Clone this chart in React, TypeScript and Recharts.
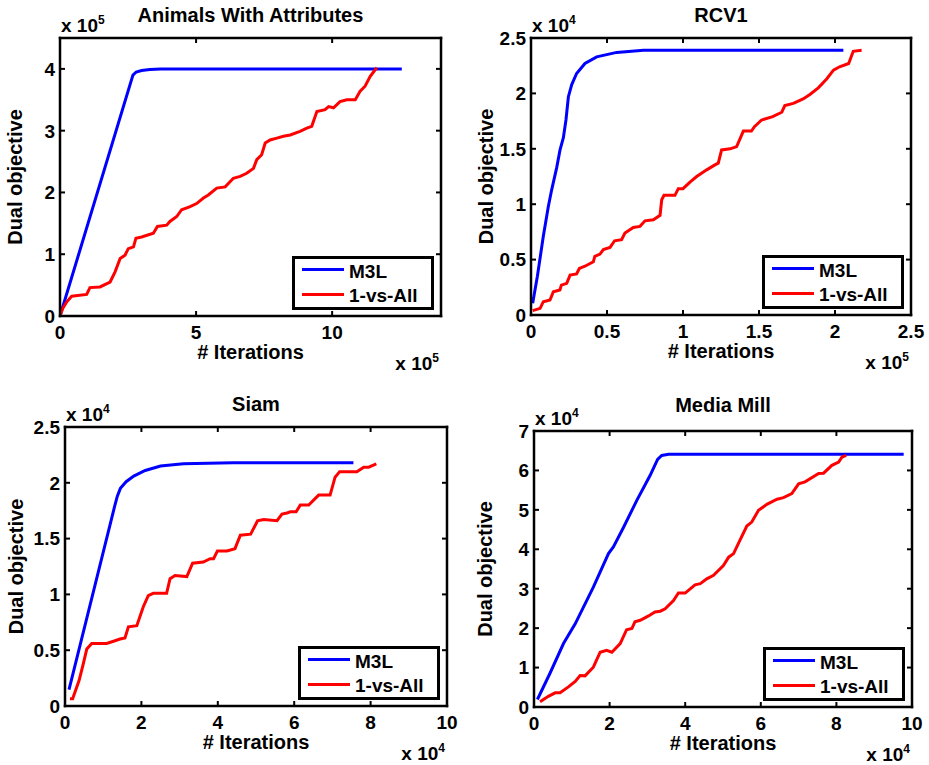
import { Legend, Line, LineChart, XAxis, YAxis } from "recharts";

const FONT = '"Liberation Sans", Arial, Helvetica, sans-serif';

// Animals With Attributes: x in 1e5 iterations, y in 1e5
const awaXTicks = [0, 5, 10];
const awaYTicks = [0, 1, 2, 3, 4];
const awaM3L = [
  [0, 0], [2.68, 3.9], [2.8, 3.95], [3.0, 3.975], [3.3, 3.99], [3.7, 4.0], [12.56, 4.0],
];
const awaOneVsAll = [
  [0, 0], [0.1, 0.12], [0.25, 0.23], [0.43, 0.32], [0.98, 0.35], [1.1, 0.46],
  [1.47, 0.47], [1.84, 0.55], [2.02, 0.71], [2.21, 0.93], [2.39, 0.985],
  [2.51, 1.09], [2.7, 1.12], [2.79, 1.26], [3.0, 1.28], [3.43, 1.34],
  [3.58, 1.45], [3.92, 1.47], [4.04, 1.53], [4.29, 1.61], [4.47, 1.72],
  [4.78, 1.77], [5.02, 1.82], [5.27, 1.91], [5.45, 1.96], [5.76, 2.07],
  [6.07, 2.09], [6.37, 2.23], [6.62, 2.26], [6.86, 2.31], [7.11, 2.39],
  [7.23, 2.53], [7.41, 2.61], [7.54, 2.8], [7.72, 2.85], [7.97, 2.88],
  [8.21, 2.91], [8.46, 2.93], [8.82, 2.99], [9.07, 3.04], [9.25, 3.07],
  [9.44, 3.31], [9.74, 3.34], [9.87, 3.39], [10.05, 3.37], [10.29, 3.47],
  [10.54, 3.5], [10.85, 3.5], [11.03, 3.64], [11.21, 3.72], [11.4, 3.88],
  [11.52, 3.95], [11.64, 4.02],
];

// RCV1: x in 1e5, y in 1e4
const rcvXTicks = [0, 0.5, 1, 1.5, 2, 2.5];
const rcvYTicks = [0, 0.5, 1, 1.5, 2, 2.5];
const rcvM3L = [
  [0.011, 0.105], [0.042, 0.35], [0.081, 0.71], [0.114, 0.98], [0.136, 1.13],
  [0.169, 1.33], [0.191, 1.49], [0.213, 1.6], [0.23, 1.76], [0.246, 1.97],
  [0.268, 2.08], [0.3, 2.18], [0.355, 2.27], [0.432, 2.33], [0.564, 2.37],
  [0.74, 2.39], [1.07, 2.39], [2.055, 2.39],
];
const rcvOneVsAll = [
  [0.011, 0.04], [0.06, 0.06], [0.081, 0.12], [0.125, 0.135], [0.147, 0.21],
  [0.19, 0.226], [0.2, 0.27], [0.235, 0.286], [0.257, 0.36], [0.3, 0.37],
  [0.318, 0.42], [0.355, 0.44], [0.41, 0.48], [0.42, 0.53], [0.454, 0.55],
  [0.476, 0.59], [0.52, 0.61], [0.55, 0.67], [0.596, 0.68], [0.618, 0.74],
  [0.673, 0.79], [0.717, 0.8], [0.75, 0.85], [0.805, 0.86], [0.849, 0.9],
  [0.86, 1.04], [0.875, 1.08], [0.947, 1.08], [0.969, 1.14], [1.0, 1.14],
  [1.046, 1.2], [1.09, 1.25], [1.156, 1.31], [1.21, 1.355], [1.232, 1.37],
  [1.254, 1.49], [1.31, 1.5], [1.353, 1.52], [1.397, 1.66], [1.45, 1.66],
  [1.47, 1.7], [1.517, 1.76], [1.59, 1.79], [1.65, 1.83], [1.67, 1.89],
  [1.726, 1.91], [1.79, 1.95], [1.835, 1.99], [1.89, 2.05], [1.945, 2.13],
  [1.99, 2.21], [2.03, 2.24], [2.09, 2.27], [2.12, 2.38], [2.175, 2.39],
];

// Siam: x in 1e4, y in 1e4
const siamXTicks = [0, 2, 4, 6, 8, 10];
const siamYTicks = [0, 0.5, 1, 1.5, 2, 2.5];
const siamM3L = [
  [0.105, 0.146], [1.3, 1.79], [1.37, 1.88], [1.45, 1.95], [1.6, 2.01],
  [1.8, 2.06], [2.1, 2.11], [2.5, 2.15], [3.1, 2.17], [4.4, 2.18], [7.55, 2.18],
];
const siamOneVsAll = [
  [0.13, 0.066], [0.2, 0.066], [0.37, 0.23], [0.48, 0.38], [0.57, 0.51],
  [0.7, 0.56], [1.09, 0.56], [1.27, 0.58], [1.44, 0.6], [1.57, 0.61],
  [1.66, 0.71], [1.88, 0.72], [2.05, 0.89], [2.18, 0.99], [2.31, 1.01],
  [2.66, 1.01], [2.75, 1.14], [2.88, 1.17], [3.19, 1.16], [3.34, 1.28],
  [3.62, 1.29], [3.8, 1.32], [3.89, 1.32], [3.99, 1.39], [4.24, 1.39],
  [4.45, 1.41], [4.59, 1.53], [4.86, 1.54], [5.04, 1.66], [5.2, 1.67],
  [5.55, 1.66], [5.68, 1.72], [5.81, 1.73], [5.9, 1.74], [6.05, 1.74],
  [6.16, 1.8], [6.38, 1.8], [6.64, 1.89], [6.94, 1.89], [7.07, 2.05],
  [7.19, 2.1], [7.64, 2.1], [7.82, 2.14], [7.95, 2.14], [8.15, 2.17],
];

// Media Mill: x in 1e4, y in 1e4
const mmXTicks = [0, 2, 4, 6, 8, 10];
const mmYTicks = [0, 1, 2, 3, 4, 5, 6, 7];
const mmM3L = [
  [0.09, 0.19], [0.42, 0.85], [0.78, 1.61], [1.09, 2.11], [1.57, 3.04],
  [1.97, 3.89], [2.1, 4.06], [2.37, 4.56], [2.72, 5.24], [3.07, 5.87],
  [3.27, 6.28], [3.38, 6.38], [3.56, 6.41], [9.78, 6.41],
];
const mmOneVsAll = [
  [0.16, 0.13], [0.38, 0.27], [0.56, 0.36], [0.69, 0.36], [0.91, 0.51],
  [1.09, 0.65], [1.22, 0.8], [1.35, 0.79], [1.57, 1.01], [1.75, 1.39],
  [1.92, 1.44], [2.06, 1.39], [2.28, 1.61], [2.45, 1.96], [2.59, 1.99],
  [2.67, 2.16], [2.81, 2.2], [3.03, 2.31], [3.2, 2.41], [3.34, 2.43],
  [3.47, 2.49], [3.69, 2.7], [3.82, 2.89], [4.0, 2.89], [4.26, 3.1],
  [4.4, 3.13], [4.57, 3.25], [4.75, 3.34], [5.01, 3.59], [5.15, 3.8],
  [5.28, 3.89], [5.45, 4.23], [5.63, 4.59], [5.76, 4.69], [5.94, 4.99],
  [6.16, 5.14], [6.43, 5.27], [6.6, 5.31], [6.82, 5.41], [7.0, 5.66],
  [7.17, 5.71], [7.53, 5.92], [7.66, 5.93], [7.88, 6.13], [8.06, 6.21],
  [8.15, 6.34], [8.26, 6.38],
];

const seriesNames = ["M3L", "1-vs-All"];

const toPts = (a: number[][]) => a.map(([x, y]) => ({ x, y }));

const panels = [
  {
    title: "Animals With Attributes", xExp: "5", yExp: "5",
    box: { l: 60, r: 441, t: 38, b: 316 }, titleDy: 16, yLabelX: 15,
    xDomain: [0, 14], yDomain: [0, 4.5], xTicks: awaXTicks, yTicks: awaYTicks,
    m3l: awaM3L, ova: awaOneVsAll,
  },
  {
    title: "RCV1", xExp: "5", yExp: "4",
    box: { l: 531, r: 911, t: 38, b: 315 }, titleDy: 16, yLabelX: 15,
    xDomain: [0, 2.5], yDomain: [0, 2.5], xTicks: rcvXTicks, yTicks: rcvYTicks,
    m3l: rcvM3L, ova: rcvOneVsAll,
  },
  {
    title: "Siam", xExp: "4", yExp: "4",
    box: { l: 65, r: 447, t: 427, b: 706 }, titleDy: 16, yLabelX: 11,
    xDomain: [0, 10], yDomain: [0, 2.5], xTicks: siamXTicks, yTicks: siamYTicks,
    m3l: siamM3L, ova: siamOneVsAll,
  },
  {
    title: "Media Mill", xExp: "4", yExp: "4",
    box: { l: 534, r: 912, t: 431, b: 707 }, titleDy: 19, yLabelX: 11,
    xDomain: [0, 10], yDomain: [0, 7], xTicks: mmXTicks, yTicks: mmYTicks,
    m3l: mmM3L, ova: mmOneVsAll,
  },
];

const ML = 60, MT = 40, MR = 30, MB = 70;
const TICK = 5;
const tickText = { fill: "#000", fontSize: 19, fontWeight: "bold", fontFamily: FONT };
const labelText = { ...tickText, fontSize: 20 };
const frame = { stroke: "#000", strokeWidth: 2.5, strokeLinecap: "square" as const };
const tickLn = { stroke: "#000", strokeWidth: 2 };

// MATLAB-style inward ticks: axes use tickSize 0, so x/y is the axis line itself
const BottomTick = ({ x, y, payload }: any) => (
  <g>
    <line x1={x} x2={x} y1={y} y2={y - TICK} {...tickLn} />
    <text x={x} y={y + 23} textAnchor="middle" {...tickText}>{payload.value}</text>
  </g>
);
const LeftTick = ({ x, y, payload }: any) => (
  <g>
    <line x1={x} x2={x + TICK} y1={y} y2={y} {...tickLn} />
    <text x={x - 5} y={y} dy="0.36em" textAnchor="end" {...tickText}>{payload.value}</text>
  </g>
);
const TopTick = ({ x, y }: any) => <line x1={x} x2={x} y1={y} y2={y + TICK} {...tickLn} />;
const RightTick = ({ x, y }: any) => <line x1={x} x2={x - TICK} y1={y} y2={y} {...tickLn} />;

function LegendBox({ payload }: any) {
  const items = [...(payload || [])].sort(
    (a: any, b: any) => seriesNames.indexOf(a.value) - seriesNames.indexOf(b.value)
  );
  return (
    <div style={{ width: 142, height: 54, boxSizing: "border-box", border: "3px solid #000", background: "#fff" }}>
      <svg width={136} height={48} style={{ display: "block" }}>
        {items.map((p: any, i: number) => (
          <g key={p.value}>
            <line x1={7} x2={49} y1={10.5 + i * 25} y2={10.5 + i * 25} stroke={p.color} strokeWidth={3} />
            <text x={54} y={19 + i * 24} {...tickText}>{p.value}</text>
          </g>
        ))}
      </svg>
    </div>
  );
}

function Panel({ cfg }: { cfg: (typeof panels)[number] }) {
  const { box } = cfg;
  const w = box.r - box.l;
  const h = box.b - box.t;
  const W = w + ML + MR;
  const H = h + MT + MB;
  return (
    <div style={{ position: "absolute", left: box.l - ML, top: box.t - MT, width: W, height: H }}>
      <LineChart width={W} height={H} margin={{ top: MT - 1, right: MR - 1, bottom: 0, left: 0 }}>
        <XAxis
          xAxisId="b" dataKey="x" type="number" domain={cfg.xDomain} ticks={cfg.xTicks}
          allowDataOverflow height={MB} tickSize={0} tickMargin={0} tickLine={false}
          axisLine={frame} tick={(p: any) => <BottomTick {...p} />}
          label={{ value: "# Iterations", position: "insideTop", offset: 29, style: labelText }}
        />
        <XAxis
          xAxisId="t" orientation="top" dataKey="x" type="number" domain={cfg.xDomain}
          ticks={cfg.xTicks} allowDataOverflow height={1} tickSize={0} tickMargin={0}
          tickLine={false} axisLine={frame} tick={(p: any) => <TopTick {...p} />}
        />
        <YAxis
          yAxisId="l" type="number" domain={cfg.yDomain} ticks={cfg.yTicks} allowDataOverflow
          width={ML} tickSize={0} tickMargin={0} tickLine={false} axisLine={frame}
          tick={(p: any) => <LeftTick {...p} />}
          label={{
            value: "Dual objective", angle: -90, position: "insideLeft", offset: cfg.yLabelX,
            style: { ...labelText, textAnchor: "middle" },
          }}
        />
        <YAxis
          yAxisId="r" orientation="right" type="number" domain={cfg.yDomain} ticks={cfg.yTicks}
          allowDataOverflow width={1} tickSize={0} tickMargin={0} tickLine={false}
          axisLine={frame} tick={(p: any) => <RightTick {...p} />}
        />
        <Legend
          layout="vertical" align="center" verticalAlign="middle" content={<LegendBox />}
          wrapperStyle={{ left: ML + w - 7 - 142, top: MT + h - 6 - 54, width: 142, height: 54 }}
        />
        <Line
          xAxisId="b" yAxisId="l" name="M3L" data={toPts(cfg.m3l)} dataKey="y" type="linear"
          stroke="#0000ff" strokeWidth={3} dot={false} activeDot={false} isAnimationActive={false}
        />
        <Line
          xAxisId="b" yAxisId="l" name="1-vs-All" data={toPts(cfg.ova)} dataKey="y" type="linear"
          stroke="#ff0000" strokeWidth={3} dot={false} activeDot={false} isAnimationActive={false}
        />
      </LineChart>
      <svg width={W} height={H} style={{ position: "absolute", left: 0, top: 0, pointerEvents: "none" }}>
        <text x={ML + w / 2} y={MT - cfg.titleDy} textAnchor="middle" {...labelText}>{cfg.title}</text>
        <text x={ML + 1} y={MT - 6} {...tickText}>
          x 10<tspan dy={-8} fontSize={12}>{cfg.yExp}</tspan>
        </text>
        <text x={ML + w - 2} y={MT + h + 54} textAnchor="end" {...tickText}>
          x 10<tspan dy={-8} fontSize={12}>{cfg.xExp}</tspan>
        </text>
      </svg>
    </div>
  );
}

export default function App() {
  return (
    <div style={{ position: "absolute", left: 0, top: 0, width: 929, height: 765, background: "#fff" }}>
      {panels.map((p) => (
        <Panel key={p.title} cfg={p} />
      ))}
    </div>
  );
}
